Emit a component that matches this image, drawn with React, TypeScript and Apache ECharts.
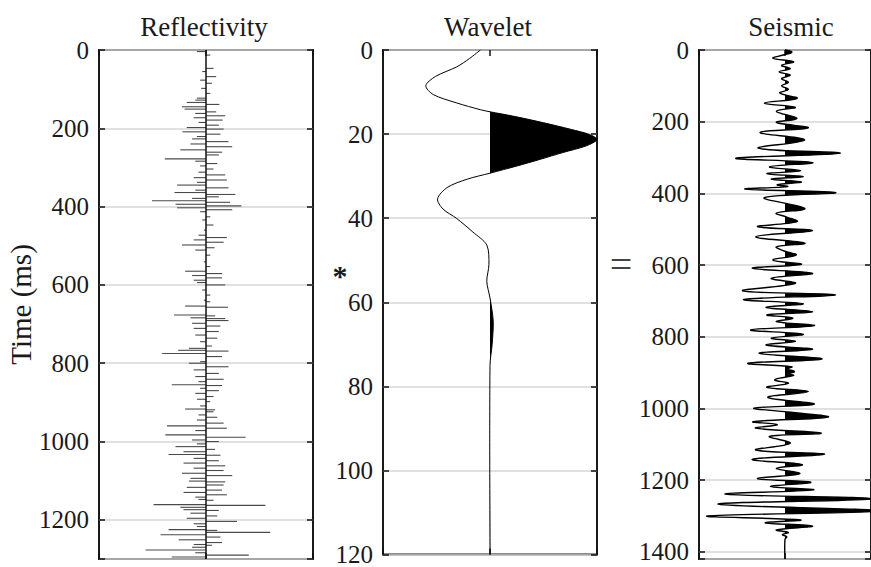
import React, { useEffect, useRef } from "react";
import * as echarts from "echarts";

// ---------------- data ----------------
// Reflectivity spikes: [time (ms), reflection coefficient]
const reflectivity: [number, number][] = [
  [4, -0.017], [13, 0.008], [47, 0.014], [55, -0.007], [68, 0.019], [77, -0.011], [85, 0.011],
  [98, -0.009], [111, 0.008], [123, -0.017], [128, -0.02], [134, -0.036], [139, 0.025], [145, -0.045],
  [151, -0.04], [158, 0.019], [162, -0.02], [168, 0.036], [173, -0.023], [179, 0.031], [185, -0.014],
  [192, 0.024], [198, -0.036], [202, 0.033], [209, -0.044], [215, 0.027], [221, -0.017], [227, -0.026],
  [234, 0.042], [240, -0.029], [247, 0.049], [255, -0.048], [261, 0.03], [268, 0.024], [278, -0.077],
  [284, -0.02], [290, 0.021], [296, -0.011], [304, 0.014], [312, -0.014], [319, 0.036], [326, -0.023],
  [332, 0.039], [338, -0.017], [345, -0.054], [352, 0.042], [358, -0.02], [364, -0.059], [369, 0.055],
  [375, 0.024], [379, -0.026], [385, -0.101], [389, 0.045], [394, -0.057], [398, 0.066], [403, -0.054],
  [408, 0.049], [413, -0.011], [426, 0.008], [434, -0.007], [447, 0.014], [460, -0.004], [473, -0.014],
  [479, 0.039], [485, -0.023], [491, 0.033], [498, -0.045], [505, 0.016], [511, -0.02], [524, 0.008],
  [541, -0.004], [553, 0.008], [565, -0.039], [571, 0.03], [576, -0.026], [582, 0.03], [588, -0.023],
  [594, -0.017], [600, 0.036], [613, -0.007], [626, 0.008], [639, -0.004], [643, 0.008], [654, -0.039],
  [657, 0.041], [677, -0.06], [679, 0.017], [684, -0.029], [686, 0.036], [691, 0.042], [698, -0.026],
  [705, 0.027], [711, -0.023], [719, 0.024], [728, -0.02], [736, 0.021], [745, -0.011], [756, 0.011],
  [762, -0.032], [767, -0.052], [769, 0.042], [775, -0.082], [783, 0.03], [796, -0.011], [800, -0.032],
  [809, 0.042], [817, -0.023], [826, 0.024], [834, -0.02], [841, 0.033], [847, -0.014], [855, -0.064],
  [857, 0.03], [864, -0.011], [870, 0.024], [877, -0.02], [885, 0.014], [892, -0.017], [898, 0.008],
  [909, -0.011], [917, -0.039], [919, 0.017], [924, 0.014], [932, -0.014], [938, 0.021], [945, -0.017],
  [953, 0.033], [960, -0.073], [966, 0.039], [972, -0.02], [983, -0.076], [989, 0.074], [996, -0.026],
  [1000, 0.024], [1006, -0.017], [1013, -0.057], [1020, 0.017], [1026, -0.042], [1033, -0.07], [1035, 0.027],
  [1043, -0.023], [1049, 0.024], [1055, -0.042], [1062, 0.036], [1068, -0.023], [1074, 0.033], [1081, -0.045],
  [1087, 0.049], [1094, -0.029], [1101, -0.032], [1103, 0.036], [1111, 0.033], [1117, -0.036], [1124, 0.03],
  [1130, -0.042], [1136, 0.039], [1142, -0.02], [1148, -0.014], [1150, 0.014], [1161, -0.098], [1163, 0.111],
  [1168, -0.048], [1174, -0.042], [1176, 0.024], [1183, -0.029], [1190, 0.021], [1196, -0.036], [1204, 0.058],
  [1210, -0.023], [1217, -0.017], [1225, -0.07], [1227, 0.021], [1232, 0.12], [1238, -0.085], [1244, 0.027],
  [1251, -0.051], [1258, 0.03], [1263, -0.023], [1265, 0.011], [1270, -0.026], [1277, -0.113], [1284, -0.02],
  [1290, 0.08], [1295, -0.064],
];

// Wavelet: [time (ms), amplitude]
const wavelet: [number, number][] = [
  [0, -0.09], [2, -0.19], [4, -0.31], [6.3, -0.51], [8.5, -0.6], [10.6, -0.53], [12.6, -0.31],
  [14.2, -0.09], [14.7, 0], [15.7, 0.21], [17.3, 0.5], [18.9, 0.76], [20.1, 0.93], [21.3, 1.0],
  [22.8, 0.9], [24.4, 0.68], [26, 0.47], [27.6, 0.25], [29.3, 0], [30.7, -0.21], [32.7, -0.4],
  [35.4, -0.49], [37.8, -0.44], [40.1, -0.31], [43.3, -0.16], [46.4, -0.03], [51, -0.01], [55, -0.03],
  [59, 0], [64.5, 0.03], [70, 0.02], [75, 0], [120, 0],
];

// Seismic trace: [time (ms), amplitude]
const seismic: [number, number][] = [
  [0, 0], [6, 0.08], [14, -0.02], [23, -0.14], [33, 0.1], [43, -0.04], [52, 0.06], [61, -0.07],
  [70, 0.06], [80, -0.04], [90, 0.04], [100, -0.04], [110, 0.04], [120, -0.06], [135, 0.14], [148, -0.24],
  [160, 0.12], [171, -0.1], [191, 0.14], [202, -0.1], [217, 0.27], [230, -0.29], [251, 0.23], [274, -0.31],
  [288, 0.64], [302, -0.57], [314, 0.32], [326, -0.18], [337, 0.18], [345, -0.21], [353, 0.21], [360, -0.16],
  [368, 0.19], [376, -0.09], [381, 0.03], [388, -0.46], [398, 0.59], [412, -0.24], [442, 0.23], [455, -0.1],
  [466, 0.02], [479, 0.14], [493, -0.32], [504, 0.32], [521, -0.34], [539, 0.23], [549, -0.1], [560, -0.02],
  [572, 0.13], [586, -0.14], [598, 0.19], [609, -0.38], [623, 0.32], [637, -0.16], [651, 0.12], [672, -0.49],
  [683, 0.59], [696, -0.48], [708, 0.21], [718, -0.22], [730, 0.32], [739, -0.21], [748, 0.09], [758, -0.1],
  [769, 0.34], [781, -0.4], [793, 0.21], [804, -0.16], [813, 0.12], [823, -0.22], [835, 0.32], [846, -0.3],
  [862, 0.43], [874, -0.43], [884, 0.08], [890, 0.03], [897, 0.11], [903, 0.05], [908, 0.1], [920, -0.12],
  [930, 0.04], [941, -0.21], [953, 0.27], [969, -0.2], [988, 0.34], [999, -0.36], [1010, 0.03], [1024, 0.5],
  [1037, -0.37], [1045, -0.09], [1055, -0.34], [1069, 0.42], [1078, -0.18], [1097, 0.06], [1116, -0.34],
  [1128, 0.46], [1142, -0.38], [1157, 0.2], [1167, -0.1], [1182, 0.17], [1196, -0.32], [1206, 0.3],
  [1218, -0.17], [1227, 0.33], [1239, -0.69], [1252, 1.02], [1267, -0.78], [1286, 1.09], [1300, -0.9],
  [1311, 0.18], [1319, -0.23], [1328, 0.32], [1339, -0.1], [1346, 0.04], [1352, -0.03], [1358, 0.02],
  [1365, 0], [1420, 0],
];

const panelTitles = ["Reflectivity", "Wavelet", "Seismic"];
const yLabel = "Time (ms)";
const timeMax = [1300, 120, 1420];
const tickStep = [200, 20, 200];
const ampMax = [0.2, 1, 1];

// ---------------- layout / style ----------------
const FONT = "'Liberation Serif', 'Times New Roman', serif";
const TXT = "#1a1a1a";
const grids = [
  { left: 99, top: 50, width: 214, height: 509 },
  { left: 383, top: 50, width: 214, height: 508 },
  { left: 699, top: 50, width: 180, height: 509 },
];

function traceRenderer(points: [number, number][], lw: number, sm: number) {
  return (params: any, api: any) => {
    if (params.dataIndex !== 0) return null;
    const pts = points.map((p) => api.coord([p[1], p[0]]));
    const z = api.coord([0, 0]);
    const cs = params.coordSys;
    return {
      type: "group",
      children: [
        {
          type: "polygon",
          shape: { points: pts, smooth: sm },
          style: { fill: "#000", stroke: null },
          clipPath: { type: "rect", shape: { x: z[0], y: cs.y, width: cs.width, height: cs.height } },
        },
        {
          type: "polyline",
          shape: { points: pts, smooth: sm },
          style: { stroke: "#000", lineWidth: lw, fill: null },
        },
      ],
    };
  };
}

export default function App() {
  const ref = useRef<HTMLDivElement>(null);
  useEffect(() => {
    if (!ref.current) return;
    const chart = echarts.init(ref.current, null, { renderer: "svg" });

    const xAxes: any[] = [];
    const yAxes: any[] = [];
    grids.forEach((g, i) => {
      ["bottom", "top"].forEach((pos) => {
        xAxes.push({
          type: "value",
          gridIndex: i,
          position: pos,
          min: -ampMax[i],
          max: ampMax[i],
          interval: ampMax[i],
          axisLine: { show: false, onZero: false },
          axisTick: { show: true, inside: true, length: 6, lineStyle: { color: "#111", width: 1.5 } },
          axisLabel: { show: false },
          splitLine: { show: false },
        });
      });
      ["left", "right"].forEach((pos) => {
        const left = pos === "left";
        yAxes.push({
          type: "value",
          gridIndex: i,
          position: pos,
          inverse: true,
          min: 0,
          max: timeMax[i],
          interval: tickStep[i],
          name: left && i === 0 ? yLabel : "",
          nameLocation: "middle",
          nameGap: 55,
          nameRotate: 90,
          nameTextStyle: { fontFamily: FONT, fontSize: 29, color: TXT },
          axisLine: { show: false, onZero: false },
          axisTick: { show: true, inside: true, length: 6, lineStyle: { color: "#111", width: 1.5 } },
          axisLabel: {
            show: left,
            margin: 10,
            fontFamily: FONT,
            fontSize: 25,
            color: TXT,
            formatter: (v: number) => (v % tickStep[i] === 0 ? String(v) : ""),
          },
          splitLine: { show: left, lineStyle: { color: "#d6d6d6", width: 1.5 } },
        });
      });
    });

    const option: any = {
      animation: false,
      backgroundColor: "#fff",
      grid: grids.map((g) => ({ ...g, show: true, borderColor: "#1a1a1a", borderWidth: 2, backgroundColor: "transparent" })),
      xAxis: xAxes,
      yAxis: yAxes,
      graphic: [
        { type: "text", x: 204, y: 27, style: { text: panelTitles[0], font: `27px ${FONT}`, fill: TXT, textAlign: "center", textVerticalAlign: "middle" } },
        { type: "text", x: 488, y: 27, style: { text: panelTitles[1], font: `27px ${FONT}`, fill: TXT, textAlign: "center", textVerticalAlign: "middle" } },
        { type: "text", x: 791, y: 27, style: { text: panelTitles[2], font: `27px ${FONT}`, fill: TXT, textAlign: "center", textVerticalAlign: "middle" } },
        { type: "text", x: 340, y: 275, style: { text: "*", font: `bold 30px ${FONT}`, fill: TXT, textAlign: "center", textVerticalAlign: "middle" } },
        { type: "text", x: 621, y: 264, style: { text: "=", font: `40px ${FONT}`, fill: "#444", textAlign: "center", textVerticalAlign: "middle" } },
      ],
      series: [
        {
          type: "line",
          xAxisIndex: 0,
          yAxisIndex: 0,
          data: [[0, 0], [0, timeMax[0]]],
          symbol: "none",
          lineStyle: { color: "#111", width: 1.5 },
          z: 3,
        },
        {
          type: "custom",
          xAxisIndex: 0,
          yAxisIndex: 0,
          data: reflectivity.map((d) => [d[1], d[0]]),
          encode: { x: 0, y: 1 },
          renderItem: (params: any, api: any) => {
            const r = api.value(0);
            const t = api.value(1);
            const a = api.coord([0, t]);
            const b = api.coord([r, t]);
            return { type: "line", shape: { x1: a[0], y1: a[1], x2: b[0], y2: b[1] }, style: { stroke: "#4a4a4a", lineWidth: 1.1 } };
          },
          z: 2,
        },
        {
          type: "custom",
          xAxisIndex: 2,
          yAxisIndex: 2,
          data: wavelet.map((d) => [d[1], d[0]]),
          encode: { x: 0, y: 1 },
          renderItem: traceRenderer(wavelet, 1, 0.3),
        },
        {
          type: "custom",
          xAxisIndex: 4,
          yAxisIndex: 4,
          data: seismic.map((d) => [d[1], d[0]]),
          encode: { x: 0, y: 1 },
          renderItem: traceRenderer(seismic, 1.4, 0.4),
        },
      ],
    };
    chart.setOption(option);
    return () => chart.dispose();
  }, []);
  return <div ref={ref} style={{ position: "absolute", left: 0, top: 0, width: 871, height: 567 }} />;
}
